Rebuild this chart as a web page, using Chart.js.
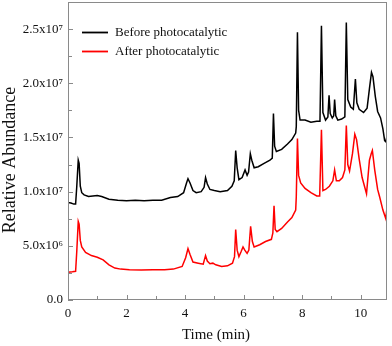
<!DOCTYPE html>
<html><head><meta charset="utf-8">
<script src="https://cdn.jsdelivr.net/npm/chart.js@4/dist/chart.umd.min.js"></script>
<style>html,body{margin:0;padding:0;background:#fff;}#wrap{width:392px;height:346px;}</style>
</head><body><div id="wrap"><canvas id="c" width="392" height="346"></canvas></div>
<script>
const seriesLabels = ['Before photocatalytic', 'After photocatalytic'];
const xTitle = 'Time (min)';
const yTitle = 'Relative Abundance';
const xTickValues = [0, 2, 4, 6, 8, 10];
const xTickLabels = ['0', '2', '4', '6', '8', '10'];
const yTickValues = [0, 5e6, 1e7, 1.5e7, 2e7, 2.5e7];
const yTickLabels = ['0.0', '5.0x10⁶', '1.0x10⁷', '1.5x10⁷', '2.0x10⁷', '2.5x10⁷'];

const beforeTime = [0.00,0.10,0.20,0.26,0.30,0.35,0.38,0.42,0.47,0.55,0.70,0.85,1.00,1.15,1.40,1.70,2.00,2.30,2.60,2.90,3.20,3.50,3.75,3.95,4.05,4.10,4.17,4.27,4.38,4.55,4.65,4.70,4.76,4.85,5.00,5.20,5.45,5.60,5.68,5.73,5.78,5.84,5.95,6.05,6.12,6.17,6.23,6.28,6.36,6.50,6.70,6.90,6.98,7.02,7.06,7.12,7.30,7.50,7.65,7.78,7.80,7.84,7.88,7.93,8.10,8.30,8.50,8.61,8.66,8.71,8.80,8.88,8.92,8.96,9.03,9.08,9.11,9.15,9.22,9.35,9.46,9.51,9.56,9.66,9.75,9.82,9.87,9.95,10.10,10.22,10.30,10.37,10.42,10.50,10.58,10.68,10.76,10.82,10.86,10.89];
const beforeValues = [9.0e6,8.95e6,8.85e6,8.85e6,10.5e6,12.9e6,12.6e6,10.5e6,9.9e6,9.7e6,9.55e6,9.6e6,9.65e6,9.55e6,9.3e6,9.2e6,9.15e6,9.2e6,9.15e6,9.2e6,9.2e6,9.45e6,9.55e6,9.9e6,10.8e6,11.2e6,10.8e6,10.1e6,9.9e6,10.0e6,10.4e6,11.3e6,10.7e6,10.2e6,10.1e6,10.0e6,10.1e6,10.5e6,11.0e6,13.8e6,12.2e6,11.1e6,11.3e6,12.0e6,11.5e6,11.8e6,13.5e6,12.9e6,12.2e6,12.3e6,12.6e6,12.9e6,13.1e6,17.2e6,14.2e6,13.7e6,13.9e6,14.4e6,14.8e6,15.4e6,16.0e6,24.7e6,17.5e6,16.6e6,16.6e6,16.4e6,16.5e6,16.5e6,25.3e6,17.3e6,16.6e6,16.9e6,18.9e6,17.2e6,16.8e6,17.0e6,18.5e6,17.0e6,16.6e6,16.7e6,16.9e6,25.6e6,18.5e6,17.8e6,17.6e6,20.4e6,18.2e6,17.6e6,17.3e6,17.7e6,19.5e6,21.0e6,20.6e6,18.8e6,17.4e6,16.8e6,15.8e6,14.7e6,14.6e6,15.0e6];

const afterTime = [0.00,0.15,0.26,0.30,0.35,0.38,0.42,0.47,0.60,0.80,1.00,1.20,1.40,1.60,1.80,2.10,2.50,2.90,3.30,3.60,3.90,4.02,4.10,4.17,4.27,4.45,4.62,4.70,4.76,4.85,4.95,5.05,5.25,5.45,5.62,5.69,5.73,5.78,5.84,5.92,5.98,6.04,6.12,6.18,6.24,6.30,6.36,6.55,6.75,6.95,7.00,7.04,7.08,7.14,7.30,7.50,7.65,7.78,7.80,7.84,7.88,7.95,8.10,8.30,8.50,8.60,8.66,8.71,8.80,8.93,9.05,9.11,9.17,9.27,9.38,9.46,9.51,9.56,9.62,9.72,9.80,9.86,9.95,10.05,10.20,10.30,10.36,10.40,10.48,10.58,10.65,10.76,10.86,10.89];
const afterValues = [2.55e6,2.6e6,2.65e6,4.5e6,7.25e6,7.0e6,5.5e6,4.9e6,4.4e6,4.1e6,3.95e6,3.7e6,3.25e6,2.95e6,2.85e6,2.8e6,2.78e6,2.8e6,2.8e6,2.85e6,3.1e6,3.9e6,4.75e6,4.2e6,3.5e6,3.4e6,3.3e6,4.1e6,3.6e6,3.35e6,3.4e6,3.25e6,3.1e6,3.15e6,3.4e6,4.0e6,6.5e6,4.6e6,4.0e6,4.5e6,4.9e6,4.6e6,4.3e6,4.6e6,6.8e6,5.4e6,4.9e6,5.1e6,5.4e6,5.6e6,6.2e6,8.7e6,6.5e6,6.3e6,6.6e6,7.2e6,7.6e6,8.3e6,9.5e6,14.9e6,11.5e6,10.8e6,10.3e6,9.9e6,9.6e6,9.6e6,15.7e6,10.1e6,10.2e6,10.5e6,11.0e6,12.0e6,11.0e6,11.0e6,11.3e6,12.0e6,16.1e6,12.5e6,11.9e6,13.5e6,15.3e6,14.8e6,13.0e6,11.3e6,9.8e6,12.9e6,13.5e6,13.8e6,12.0e6,10.2e6,9.5e6,8.3e6,7.5e6,8.3e6];

const FONT = '"Liberation Serif", "Times New Roman", serif';
const toPts = (t, v) => t.map((x, i) => ({x: x, y: v[i]}));

const decor = {
  id: 'decor',
  afterDraw(chart) {
    const ctx = chart.ctx, a = chart.chartArea;
    const xs = chart.scales.x, ys = chart.scales.y;
    ctx.save();
    ctx.strokeStyle = '#8a8a8a'; ctx.lineWidth = 1;
    ctx.strokeRect(Math.round(a.left) + 0.5, Math.round(a.top) + 0.5, Math.round(a.right - a.left) - 1, Math.round(a.bottom - a.top) - 1);
    ctx.beginPath();
    for (let t = 0; t <= 10; t++) {
      const px = Math.round(xs.getPixelForValue(t)) + 0.5;
      const len = (t % 2 === 0) ? 5 : 4;
      ctx.moveTo(px, a.bottom); ctx.lineTo(px, a.bottom - len);
    }
    for (let k = 0; k <= 11; k++) {
      const py = Math.round(ys.getPixelForValue(k * 2.5e6)) + 0.5;
      const len = (k % 2 === 0) ? 5 : 4;
      ctx.moveTo(a.left, py); ctx.lineTo(a.left + len, py);
    }
    ctx.stroke();
    ctx.font = '13px ' + FONT; ctx.textBaseline = 'middle'; ctx.textAlign = 'left';
    chart.data.datasets.forEach((ds, i) => {
      const y = 32 + i * 19;
      ctx.strokeStyle = ds.borderColor; ctx.lineWidth = 1.8;
      ctx.beginPath(); ctx.moveTo(82, y + 0.5); ctx.lineTo(108, y + 0.5); ctx.stroke();
      ctx.fillStyle = '#111'; ctx.fillText(ds.label, 115, y + 1);
    });
    ctx.fillStyle = '#111';
    ctx.font = '15px ' + FONT; ctx.textAlign = 'center';
    ctx.fillText(xTitle, 216, 335);
    ctx.save();
    ctx.translate(10, 160); ctx.rotate(-Math.PI / 2);
    ctx.font = '18px ' + FONT;
    ctx.fillText(yTitle, 0, 0);
    ctx.restore();
    ctx.restore();
  }
};

new Chart(document.getElementById('c'), {
  type: 'line',
  data: {
    datasets: [
      {label: seriesLabels[0], data: toPts(beforeTime, beforeValues), borderColor: '#000000', borderWidth: 1.5, pointRadius: 0, tension: 0, fill: false},
      {label: seriesLabels[1], data: toPts(afterTime, afterValues), borderColor: '#ff0000', borderWidth: 1.5, pointRadius: 0, tension: 0, fill: false}
    ]
  },
  options: {
    responsive: false, animation: false, devicePixelRatio: 1,
    layout: {padding: {top: 2, right: 5, left: 0, bottom: 0}},
    plugins: {legend: {display: false}, tooltip: {enabled: false}},
    scales: {
      x: {
        type: 'linear', min: 0, max: 10.9,
        grid: {display: false, drawTicks: false}, border: {display: false},
        ticks: {autoSkip: false, maxRotation: 0, padding: 6, color: '#111', font: {family: FONT, size: 13},
          callback: (v) => { const i = xTickValues.indexOf(v); return i >= 0 ? xTickLabels[i] : ''; }},
        afterBuildTicks: (s) => { s.ticks = xTickValues.map(v => ({value: v})); },
        afterFit: (s) => { s.height = 46; s.paddingLeft = 0; s.paddingRight = 0; }
      },
      y: {
        type: 'linear', min: 0, max: 2.75e7,
        grid: {display: false, drawTicks: false}, border: {display: false},
        ticks: {padding: 5, color: '#111', font: {family: FONT, size: 13},
          callback: (v) => { const i = yTickValues.indexOf(v); return i >= 0 ? yTickLabels[i] : ''; }},
        afterBuildTicks: (s) => { s.ticks = yTickValues.map(v => ({value: v})); },
        afterFit: (s) => { s.width = 68; s.paddingTop = 0; s.paddingBottom = 0; }
      }
    }
  },
  plugins: [decor]
});
</script></body></html>
